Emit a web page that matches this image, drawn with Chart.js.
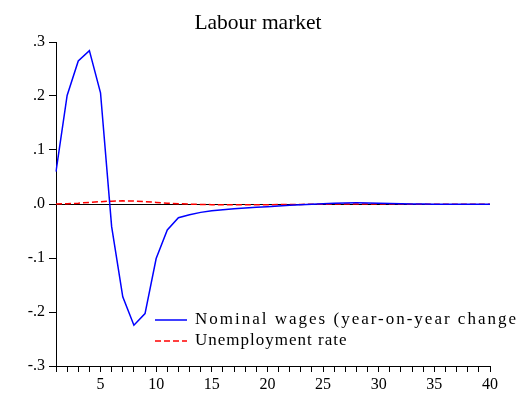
<!DOCTYPE html>
<html>
<head>
<meta charset="utf-8">
<title>Labour market</title>
<script src="https://cdn.jsdelivr.net/npm/chart.js@4.4.1/dist/chart.umd.min.js"></script>
<style>
  html, body { margin: 0; padding: 0; background: #fff; }
  canvas { display: block; }
</style>
</head>
<body>
<canvas id="chart" width="516" height="393"></canvas>
<script>
// Impulse responses over 40 periods
const periods = Array.from({ length: 40 }, (_, i) => String(i + 1));

const nominalWages = [
  0.060, 0.201, 0.265, 0.284, 0.206, -0.042, -0.172, -0.2245, -0.203, -0.101,
  -0.048, -0.0254, -0.020, -0.0155, -0.0124, -0.0105, -0.0087, -0.0074, -0.006, -0.005,
  -0.0038, -0.0025, -0.0015, -0.0005, 0.0005, 0.0012, 0.0018, 0.0021, 0.002, 0.0016,
  0.0011, 0.0006, 0.0002, -0.0001, -0.0003, -0.0005, -0.0006, -0.0006, -0.0006, -0.0006
];

const unemploymentRate = [
  0, 0.0005, 0.0015, 0.003, 0.0043, 0.0053, 0.0058, 0.0055, 0.0045, 0.003,
  0.0015, 0.0005, -0.0003, -0.0008, -0.0012, -0.0014, -0.0015, -0.0015, -0.0014, -0.0013,
  -0.0011, -0.0009, -0.0007, -0.0005, -0.0003, -0.0002, -0.0001, 0, 0, 0,
  -0.0001, -0.0002, -0.0003, -0.0004, -0.0005, -0.0006, -0.0006, -0.0006, -0.0006, -0.0006
];

const seriesNames = ['Nominal wages (year-on-year change)', 'Unemployment rate'];
const yTickValues = [-0.3, -0.2, -0.1, 0, 0.1, 0.2, 0.3];
const chartTitle = 'Labour market';

const SERIF = "'Liberation Serif', 'Times New Roman', serif";

// Title centred on the whole canvas
const pageTitle = {
  id: 'pageTitle',
  afterDraw(chart) {
    const ctx = chart.ctx;
    ctx.save();
    ctx.font = '21.5px ' + SERIF;
    ctx.fillStyle = '#000';
    ctx.textAlign = 'center';
    ctx.textBaseline = 'alphabetic';
    ctx.fillText(chartTitle, chart.width / 2, 28.5);
    ctx.restore();
  }
};

// Legend drawn inside the plot, under the wage trough
const innerLegend = {
  id: 'innerLegend',
  afterDraw(chart) {
    const ctx = chart.ctx;
    const x0 = 155, lineLen = 32, textGap = 8;
    const rows = [320, 341];
    const spacing = ['2px', '1px'];
    ctx.save();
    ctx.font = '17px ' + SERIF;
    ctx.fillStyle = '#000';
    ctx.textBaseline = 'alphabetic';
    ctx.textAlign = 'left';
    chart.data.datasets.forEach((ds, i) => {
      const y = rows[i];
      ctx.beginPath();
      ctx.strokeStyle = ds.borderColor;
      ctx.lineWidth = ds.borderWidth;
      ctx.setLineDash(ds.borderDash || []);
      ctx.moveTo(x0, y);
      ctx.lineTo(x0 + lineLen, y);
      ctx.stroke();
      ctx.setLineDash([]);
      if ('letterSpacing' in ctx) ctx.letterSpacing = spacing[i];
      ctx.fillText(ds.label, x0 + lineLen + textGap, y + 4);
    });
    ctx.restore();
  }
};

new Chart(document.getElementById('chart'), {
  type: 'line',
  data: {
    labels: periods,
    datasets: [
      {
        label: seriesNames[0],
        data: nominalWages,
        borderColor: '#0000ff',
        borderWidth: 1.5,
        pointRadius: 0,
        tension: 0,
        fill: false
      },
      {
        label: seriesNames[1],
        data: unemploymentRate,
        borderColor: '#ff0000',
        borderWidth: 1.5,
        borderDash: [6, 3],
        pointRadius: 0,
        tension: 0,
        fill: false
      }
    ]
  },
  options: {
    responsive: false,
    devicePixelRatio: 1,
    animation: false,
    layout: { padding: { left: 0, right: 26, top: 42, bottom: 0 } },
    plugins: {
      legend: { display: false },
      tooltip: { enabled: false },
      title: { display: false }
    },
    scales: {
      x: {
        type: 'category',
        offset: false,
        border: { display: true, color: '#000', width: 1 },
        grid: { drawOnChartArea: false, drawTicks: true, tickLength: 6, tickColor: '#000' },
        ticks: {
          autoSkip: false,
          maxRotation: 0,
          color: '#000',
          padding: 3,
          font: { family: SERIF, size: 16 },
          callback(value) {
            const lab = this.getLabelForValue(value);
            return Number(lab) % 5 === 0 ? lab : '';
          }
        },
        afterFit(scale) { scale.height = 27; }
      },
      y: {
        min: -0.3,
        max: 0.3,
        border: { display: true, color: '#000', width: 1 },
        grid: {
          drawOnChartArea: true,
          drawTicks: true,
          tickLength: 7,
          tickColor: '#000',
          color: (c) => (c.tick && Math.abs(c.tick.value) < 1e-9 ? '#000' : 'rgba(0,0,0,0)'),
          lineWidth: 1
        },
        afterBuildTicks(scale) {
          scale.ticks = yTickValues.map((v) => ({ value: v }));
        },
        ticks: {
          color: '#000',
          padding: 4,
          font: { family: SERIF, size: 16 },
          callback(value) {
            const s = (Math.round(value * 10) / 10).toFixed(1);
            return s.replace('0.', '.');
          }
        },
        afterFit(scale) { scale.width = 56; }
      }
    }
  },
  plugins: [pageTitle, innerLegend]
});
</script>
</body>
</html>
